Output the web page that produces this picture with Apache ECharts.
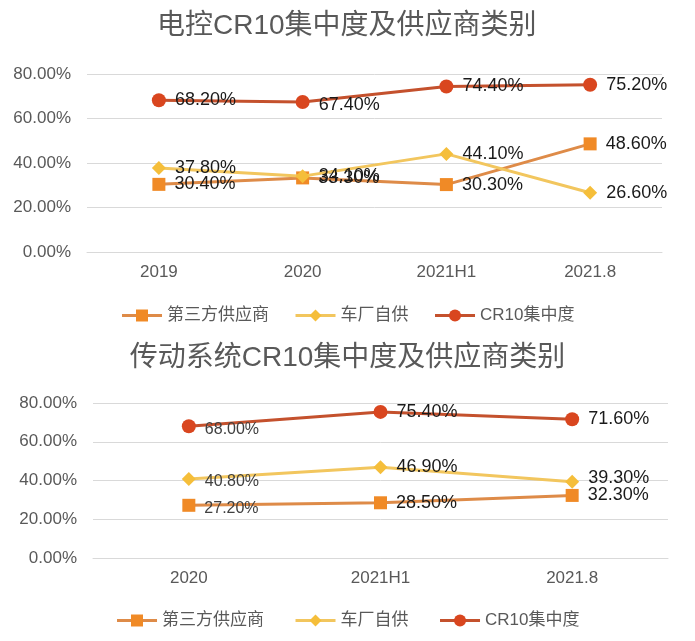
<!DOCTYPE html>
<html>
<head>
<meta charset="utf-8">
<script src="https://cdn.jsdelivr.net/npm/echarts@6/dist/echarts.min.js"></script>
<style>
html,body{margin:0;padding:0;background:#fff;}
#c{width:695px;height:641px;}
</style>
</head>
<body>
<div id="c"></div>
<script>
// ---- Data ----
const title1 = '电控CR10集中度及供应商类别';
const title2 = '传动系统CR10集中度及供应商类别';
const seriesNames = ['第三方供应商', '车厂自供', 'CR10集中度'];

const cats1 = ['2019', '2020', '2021H1', '2021.8'];
const third1 = [30.4, 33.3, 30.3, 48.6];
const self1 = [37.8, 34.1, 44.1, 26.6];
const cr10_1 = [68.2, 67.4, 74.4, 75.2];

const cats2 = ['2020', '2021H1', '2021.8'];
const third2 = [27.2, 28.5, 32.3];
const self2 = [40.8, 46.9, 39.3];
const cr10_2 = [68.0, 75.4, 71.6];

const yTicks = [0, 20, 40, 60, 80];

// ---- Styles ----
const FONT = "'Liberation Sans', Arial, 'Noto Sans CJK SC', sans-serif";
const GRAY = '#595959';
const styles = [
  {symbol: 'rect', symbolSize: 13, line: '#DE8B48', mark: '#F08A26'},
  {symbol: 'diamond', symbolSize: 14, line: '#F2C65E', mark: '#F5BE3A'},
  {symbol: 'circle', symbolSize: 14, line: '#C4512D', mark: '#D9461F'}
];

function mkSeries(idx, values, gridIdx, labelOpts) {
  const s = styles[idx];
  return {
    name: seriesNames[idx],
    type: 'line',
    xAxisIndex: gridIdx,
    yAxisIndex: gridIdx,
    data: values.map((v, i) => {
      const o = labelOpts && labelOpts[i];
      const item = {value: v};
      if (o) item.label = o;
      return item;
    }),
    symbol: s.symbol,
    symbolSize: s.symbolSize,
    lineStyle: {color: s.line, width: 3},
    itemStyle: {color: s.mark},
    color: s.mark,
    label: {
      show: true,
      position: 'right',
      distance: 9,
      fontFamily: FONT,
      fontSize: 18,
      color: '#1a1a1a',
      formatter: p => p.value.toFixed(2) + '%'
    },
    z: 3 + idx
  };
}

const small = {fontSize: 16, color: '#404040', offset: [0, 3]};

const legendBase = {
  data: seriesNames, left: 'center', itemWidth: 40, itemHeight: 15,
  lineStyle: {width: 3},
  textStyle: {fontFamily: FONT, fontSize: 17, color: GRAY}
};

const option = {
  animation: false,
  backgroundColor: '#fff',
  textStyle: {fontFamily: FONT},
  title: [
    {text: title1, left: 152, top: 7, textStyle: {fontFamily: FONT, fontSize: 28, fontWeight: 'normal', color: GRAY}},
    {text: title2, left: 'center', top: 339, textStyle: {fontFamily: FONT, fontSize: 28, fontWeight: 'normal', color: GRAY}}
  ],
  legend: [
    Object.assign({}, legendBase, {top: 302, itemGap: 25}),
    Object.assign({}, legendBase, {top: 607, itemGap: 30})
  ],
  grid: [
    {left: 87, right: 33, top: 74, height: 178},
    {left: 93, right: 27, top: 403, height: 155}
  ],
  xAxis: [0, 1].map(g => ({
    type: 'category',
    gridIndex: g,
    data: g === 0 ? cats1 : cats2,
    boundaryGap: true,
    axisLine: {lineStyle: {color: '#D9D9D9', width: 1}},
    axisTick: {show: false},
    axisLabel: {fontFamily: FONT, fontSize: 17, color: GRAY, margin: 12}
  })),
  yAxis: [0, 1].map(g => ({
    type: 'value',
    gridIndex: g,
    min: yTicks[0],
    max: yTicks[yTicks.length - 1],
    interval: yTicks[1] - yTicks[0],
    axisLine: {show: false},
    axisTick: {show: false},
    splitLine: {lineStyle: {color: '#D9D9D9', width: 1}},
    axisLabel: {fontFamily: FONT, fontSize: 17, color: GRAY, margin: 16,
      formatter: v => v.toFixed(2) + '%'}
  })),
  series: [
    mkSeries(0, third1, 0),
    mkSeries(1, self1, 0),
    mkSeries(2, cr10_1, 0, [null, {offset: [0, 3]}, null, null]),
    mkSeries(0, third2, 1, [small, null, null]),
    mkSeries(1, self2, 1, [small, null, {offset: [0, -4]}]),
    mkSeries(2, cr10_2, 1, [small, null, null])
  ]
};

const chart = echarts.init(document.getElementById('c'), null, {renderer: 'canvas'});
chart.setOption(option);
</script>
</body>
</html>
